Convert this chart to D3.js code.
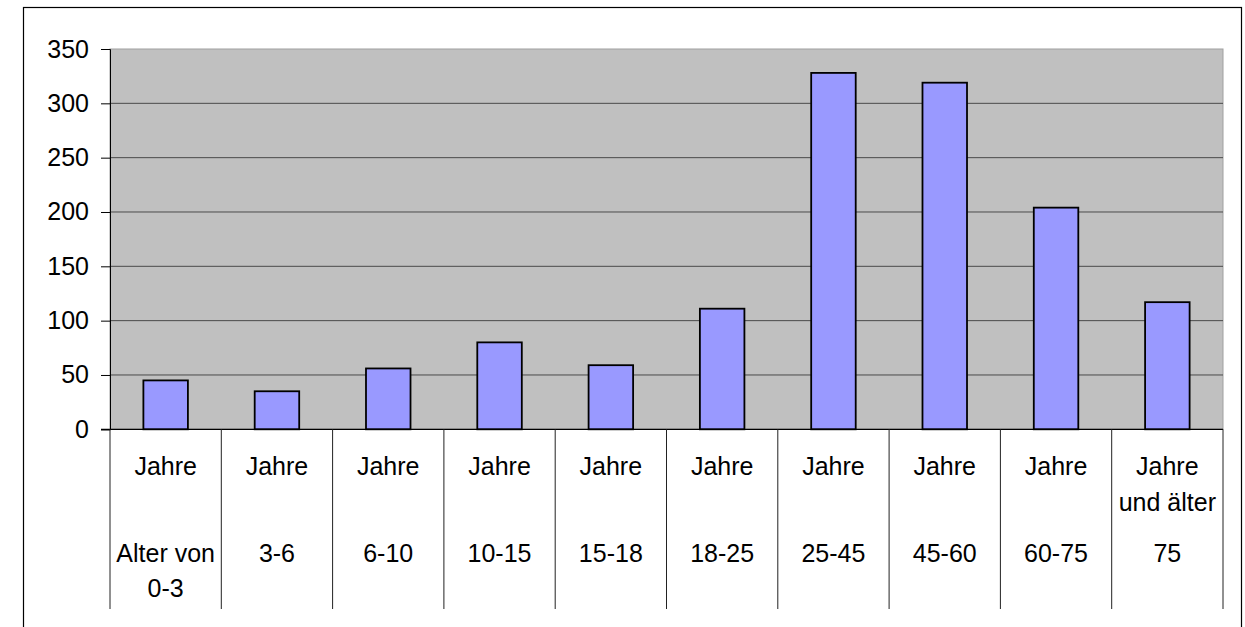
<!DOCTYPE html>
<html>
<head>
<meta charset="utf-8">
<script src="https://cdn.jsdelivr.net/npm/d3@7"></script>
<style>
  body { margin: 0; background: #fff; }
  svg { display: block; }
</style>
</head>
<body>
<div id="chart"></div>
<script>
// Altersgruppen und Werte
const groups = ["0-3", "3-6", "6-10", "10-15", "15-18", "18-25", "25-45", "45-60", "60-75", "75+"];
const counts = [45, 35, 56, 80, 59, 111, 328, 319, 204, 117];
const topLines = [["Jahre"], ["Jahre"], ["Jahre"], ["Jahre"], ["Jahre"], ["Jahre"], ["Jahre"], ["Jahre"], ["Jahre"], ["Jahre", "und älter"]];
const bottomLines = [["Alter von", "0-3"], ["3-6"], ["6-10"], ["10-15"], ["15-18"], ["18-25"], ["25-45"], ["45-60"], ["60-75"], ["75"]];
const yTicks = [0, 50, 100, 150, 200, 250, 300, 350];

(() => {
  const width = 1245, height = 627;
  const left = 110, right = 1223, top = 49, bottom = 429.3;
  const font = "'Liberation Sans', Arial, sans-serif";

  const svg = d3.select("#chart").append("svg")
    .attr("width", width)
    .attr("height", height);

  // outer frame (bottom runs off the picture)
  svg.append("rect")
    .attr("x", 23.5).attr("y", 7.5)
    .attr("width", 1241.5 - 23.5).attr("height", 700)
    .attr("fill", "#fff").attr("stroke", "#000").attr("stroke-width", 1.2);

  const x = d3.scaleBand().domain(groups).range([left, right])
    .paddingInner(0.6).paddingOuter(0.3);
  const y = d3.scaleLinear().domain([0, 350]).range([bottom, top]);

  // plot area
  svg.append("rect")
    .attr("x", left).attr("y", top)
    .attr("width", right - left).attr("height", bottom - top)
    .attr("fill", "#c0c0c0").attr("stroke", "#a0a0a0").attr("stroke-width", 1);

  // gridlines
  svg.append("g").selectAll("line")
    .data(yTicks.filter(d => d > 0 && d < 350))
    .join("line")
    .attr("x1", left).attr("x2", right)
    .attr("y1", d => y(d)).attr("y2", d => y(d))
    .attr("stroke", "#4a4a4a").attr("stroke-width", 1);

  // bars
  svg.append("g").selectAll("rect")
    .data(groups)
    .join("rect")
    .attr("x", d => x(d))
    .attr("y", (d, i) => y(counts[i]))
    .attr("width", x.bandwidth())
    .attr("height", (d, i) => y(0) - y(counts[i]))
    .attr("fill", "#9999ff")
    .attr("stroke", "#000")
    .attr("stroke-width", 1.8);

  // y axis
  const yAxis = svg.append("g")
    .attr("transform", `translate(${left},0)`)
    .call(d3.axisLeft(y).tickValues(yTicks).tickSize(9).tickPadding(12));
  yAxis.select(".domain").attr("stroke", "#000");
  yAxis.selectAll(".tick line").attr("stroke", "#000");
  yAxis.selectAll(".tick text")
    .attr("fill", "#000")
    .style("font-family", font)
    .style("font-size", "25px");

  // baseline
  svg.append("line")
    .attr("x1", left - 9).attr("x2", right)
    .attr("y1", bottom).attr("y2", bottom)
    .attr("stroke", "#000").attr("stroke-width", 1.2);

  // category separators reaching down into the label table
  const step = x.step();
  const seps = d3.range(groups.length + 1).map(i => left + i * step);
  svg.append("g").selectAll("line")
    .data(seps)
    .join("line")
    .attr("x1", d => d).attr("x2", d => d)
    .attr("y1", bottom).attr("y2", 609)
    .attr("stroke", "#222").attr("stroke-width", 1);

  // category labels
  const labels = svg.append("g")
    .style("font-family", font)
    .style("font-size", "25px")
    .attr("fill", "#000")
    .attr("text-anchor", "middle");

  groups.forEach((g, i) => {
    const cx = x(g) + x.bandwidth() / 2;
    topLines[i].forEach((t, j) => {
      labels.append("text").attr("x", cx).attr("y", 475 + j * 36).text(t);
    });
    bottomLines[i].forEach((t, j) => {
      labels.append("text").attr("x", cx).attr("y", 562 + j * 35).text(t);
    });
  });
})();
</script>
</body>
</html>
